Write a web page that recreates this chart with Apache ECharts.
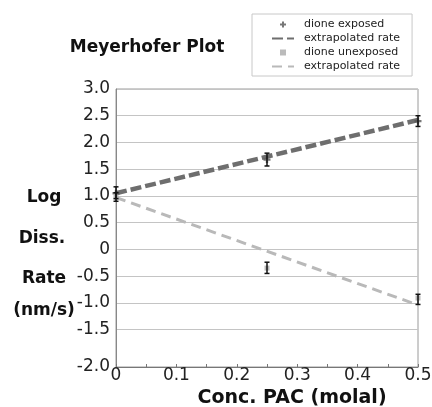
<!DOCTYPE html>
<html>
<head>
<meta charset="utf-8">
<script src="https://cdn.jsdelivr.net/npm/echarts@6/dist/echarts.min.js"></script>
<style>
html,body{margin:0;padding:0;background:#fff;}
#c{width:432px;height:407px;}
</style>
</head>
<body>
<div id="c"></div>
<script>
// ---- data ----
const concPAC = [0, 0.25, 0.5];
const exposedRate = [1.05, 1.68, 2.40];
const exposedLow = [0.95, 1.56, 2.30];
const exposedHigh = [1.17, 1.80, 2.50];
const unexposedRate = [0.98, -0.35, -0.91];
const unexposedLow = [0.90, -0.45, -1.03];
const unexposedHigh = [1.06, -0.24, -0.84];
const fitX = [0, 0.5];
const exposedFit = [1.05, 2.42];
const unexposedFit = [0.97, -1.04];
const yTickValues = [3, 2.5, 2, 1.5, 1, 0.5, 0, -0.5, -1, -1.5, -2.2];
const yTickLabels = ['3.0', '2.5', '2.0', '1.5', '1.0', '0.5', '0', '-0.5', '-1.0', '-1.5', '-2.0'];
const yGridValues = [3, 2.5, 2, 1.5, 1, 0.5, 0, -0.5, -1, -1.5];
const yTitleWords = ['Log', 'Diss.', 'Rate', '(nm/s)'];
const seriesNames = ['dione exposed', 'extrapolated rate', 'dione unexposed', 'extrapolated rate '];

const FONT = 'DejaVu Sans';
const pairs = (xs, ys) => xs.map((x, i) => [x, ys[i]]);
const errData = (xs, lo, hi) => xs.map((x, i) => [x, lo[i], hi[i]]);
const PLUS = 'path://M2,0H4V2H6V4H4V6H2V4H0V2H2Z';
const SQUARE = 'path://M0,0H6V6H0Z';

function errorBar(params, api) {
  const x = api.value(0);
  const lo = api.coord([x, api.value(1)]);
  const hi = api.coord([x, api.value(2)]);
  const w = 2.5;
  const st = { stroke: '#111', lineWidth: 1.5 };
  return {
    type: 'group',
    children: [
      { type: 'line', shape: { x1: lo[0], y1: lo[1], x2: hi[0], y2: hi[1] }, style: st },
      { type: 'line', shape: { x1: lo[0] - w, y1: lo[1], x2: lo[0] + w, y2: lo[1] }, style: st },
      { type: 'line', shape: { x1: hi[0] - w, y1: hi[1], x2: hi[0] + w, y2: hi[1] }, style: st }
    ]
  };
}

const yTitlePos = [[44, 198], [42, 239], [44, 279], [44, 311]];

const chart = echarts.init(document.getElementById('c'), null, { renderer: 'canvas' });
chart.setOption({
  animation: false,
  backgroundColor: '#fff',
  textStyle: { fontFamily: FONT },
  title: {
    text: 'Meyerhofer Plot',
    left: 147, top: 39, textAlign: 'center',
    padding: 0,
    textStyle: { fontFamily: FONT, fontSize: 17, fontWeight: 'bold', color: '#111' }
  },
  graphic: yTitleWords.map((w, i) => ({
    type: 'text', x: yTitlePos[i][0], y: yTitlePos[i][1],
    style: { text: w, font: 'bold 17px "DejaVu Sans"', fill: '#111', align: 'center', verticalAlign: 'middle' }
  })),
  legend: {
    orient: 'vertical',
    left: 252, top: 14,
    backgroundColor: '#fff',
    borderColor: '#c8c8c8', borderWidth: 1,
    padding: [5, 12, 4, 19],
    itemWidth: 22, itemHeight: 6, itemGap: 3,
    formatter: n => n.trim(),
    textStyle: { fontFamily: FONT, fontSize: 11, color: '#222', padding: [0, 0, 0, 5] },
    data: [
      { name: seriesNames[0], icon: PLUS },
      { name: seriesNames[1], itemStyle: { opacity: 0 } },
      { name: seriesNames[2], icon: SQUARE },
      { name: seriesNames[3], itemStyle: { opacity: 0 } }
    ]
  },
  grid: {
    left: 116, right: 14, top: 89, bottom: 40,
    outerBoundsMode: 'none', containLabel: false,
    show: true, borderColor: '#9a9a9a', borderWidth: 1, backgroundColor: 'transparent'
  },
  xAxis: {
    type: 'value', min: 0, max: 0.5, interval: 0.1,
    name: 'Conc. PAC (molal)', nameLocation: 'middle', nameGap: 22,
    nameTextStyle: { fontFamily: FONT, fontSize: 19, fontWeight: 'bold', color: '#111', padding: [0, 0, 0, 50] },
    axisLine: { onZero: false, lineStyle: { color: '#777', width: 1 } },
    axisTick: { show: true, inside: true, length: 3, lineStyle: { color: '#777' } },
    minorTick: { show: true, splitNumber: 2, length: 3, lineStyle: { color: '#777' } },
    axisLabel: { fontFamily: FONT, fontSize: 17, color: '#222', margin: 0,
      formatter: v => (v === 0 ? '0' : String(+v.toFixed(1))) },
    splitLine: { show: false }
  },
  yAxis: {
    type: 'value', min: -2.2, max: 3,
    axisLine: { show: true, onZero: false, lineStyle: { color: '#888', width: 1 } },
    axisTick: { show: false, customValues: yGridValues },
    axisLabel: { fontFamily: FONT, fontSize: 17, color: '#222', margin: 6,
      customValues: yTickValues,
      formatter: v => yTickLabels[yTickValues.findIndex(t => Math.abs(t - v) < 1e-6)] },
    splitLine: { show: true, lineStyle: { color: '#c4c4c4', width: 1 } }
  },
  series: [
    {
      name: seriesNames[0], type: 'scatter', data: pairs(concPAC, exposedRate),
      symbol: PLUS, symbolSize: 7, itemStyle: { color: '#555' }, z: 4
    },
    {
      name: seriesNames[1], type: 'line', data: pairs(fitX, exposedFit),
      symbol: 'none', lineStyle: { color: '#6e6e6e', width: 4.5, type: [11, 4] },
      itemStyle: { color: '#6e6e6e' }, z: 3
    },
    {
      name: seriesNames[2], type: 'scatter', data: pairs(concPAC, unexposedRate),
      symbol: 'rect', symbolSize: 5, itemStyle: { color: '#aaa' }, z: 4
    },
    {
      name: seriesNames[3], type: 'line', data: pairs(fitX, unexposedFit),
      symbol: 'none', lineStyle: { color: '#b9b9b9', width: 3, type: [10, 6] },
      itemStyle: { color: '#b9b9b9' }, z: 3
    },
    {
      type: 'custom', renderItem: errorBar, data: errData(concPAC, exposedLow, exposedHigh),
      encode: { x: 0, y: [1, 2] }, z: 5, silent: true
    },
    {
      type: 'custom', renderItem: errorBar, data: errData(concPAC, unexposedLow, unexposedHigh),
      encode: { x: 0, y: [1, 2] }, z: 5, silent: true
    }
  ]
});
</script>
</body>
</html>
